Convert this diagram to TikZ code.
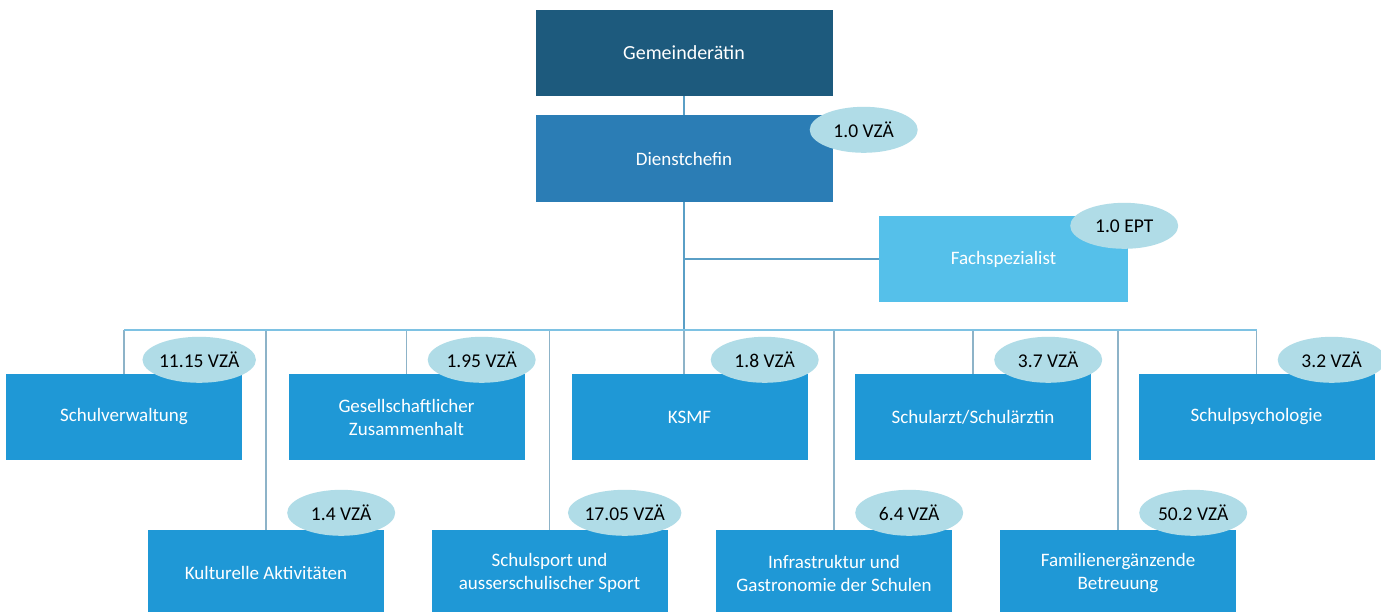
\documentclass[tikz,border=0pt]{standalone}
\usepackage{fontspec}
\setmainfont{Carlito}
\usetikzlibrary{shapes.geometric}
\definecolor{topnavy}{HTML}{1D5A7D}
\definecolor{chefblue}{HTML}{2B7DB5}
\definecolor{specblue}{HTML}{55C0EA}
\definecolor{unitblue}{HTML}{1F98D6}
\definecolor{tagfill}{HTML}{B0DCE7}
\definecolor{linkblue}{HTML}{5A9FC6}
\definecolor{droplink}{HTML}{8DB3C8}
\definecolor{busblue}{HTML}{7EC2E3}
\begin{document}
\begin{tikzpicture}[x=1pt,y=-1pt,
  box/.style={rectangle, draw=none, minimum width=236pt, minimum height=86pt,
    inner sep=0pt, align=center, text=white,
    font=\fontsize{19}{23}\selectfont},
  unit/.style={box, fill=unitblue},
  tag/.style={ellipse, fill=tagfill, minimum width=108pt, minimum height=46pt,
    inner sep=0pt, text=black, font=\fontsize{19.5}{23}\selectfont},
  link/.style={draw=linkblue, line width=1.3pt},
  drop/.style={draw=droplink, line width=1.2pt},
  bus/.style={draw=busblue, line width=2.2pt}]
\clip (0,0) rectangle (1381,611);
\fill[white] (0,0) rectangle (1381,611);

% management
\node[box, fill=topnavy, minimum width=297pt, font=\fontsize{20}{24}\selectfont] (gr) at (684,53) {Gemeinderätin};
\node[box, fill=chefblue, minimum width=297pt, minimum height=87pt] (dc) at (684,158.5) {Dienstchefin};
\node[box, fill=specblue, minimum width=249pt] (fs) at (1003.5,259) {Fachspezialist};

% first row of units
\node[unit] (sv) at (124,417) {Schulverwaltung};
\node[unit] (gz) at (406.5,417) {Gesellschaftlicher\\Zusammenhalt};
\node[unit] (ks) at (689.5,417) {KSMF};
\node[unit] (sa) at (973,417) {Schularzt/Schulärztin};
\node[unit] (sp) at (1256.5,417) {Schulpsychologie};

% second row of units
\node[unit] (ka) at (266,573) {Kulturelle Aktivitäten};
\node[unit] (ss) at (549.5,573) {Schulsport und\\ausserschulischer Sport};
\node[unit] (ig) at (834,573) {Infrastruktur und\\Gastronomie der Schulen};
\node[unit] (fb) at (1118,573) {Familienergänzende\\Betreuung};

% reporting lines
\coordinate (bus) at (gr.south |- 0,330);
\coordinate (busL) at (sv.north |- bus);
\coordinate (busR) at (sp.north |- bus);
\draw[link] (gr.south) -- (dc.north);
\draw[link] (dc.south) -- (bus);
\draw[link] (dc.south |- fs.west) -- (fs.west);
\foreach \u in {sv,gz,sa,sp,ka,ss,ig,fb}
  \draw[drop] (\u.north |- bus) -- (\u.north);
\draw[drop] (bus) -- (bus |- ks.north);
\draw[bus] (busL) -- (busR);

% staffing tags
\node[tag] (t-dc) at ([xshift=31pt,yshift=-15pt]dc.north east) {1.0 VZÄ};
\node[tag] (t-fs) at ([xshift=-4pt,yshift=-10pt]fs.north east) {1.0 EPT};
\foreach \u/\v in {sv/11.15, gz/1.95, ks/1.8, sa/3.7, sp/3.2}
  \node[tag] (t-\u) at ([xshift=-43pt,yshift=14pt]\u.north east) {\v\ VZÄ};
\foreach \u/\v in {ka/1.4, ss/17.05, ig/6.4, fb/50.2}
  \node[tag] (t-\u) at ([xshift=-43pt,yshift=17pt]\u.north east) {\v\ VZÄ};
\end{tikzpicture}
\end{document}
